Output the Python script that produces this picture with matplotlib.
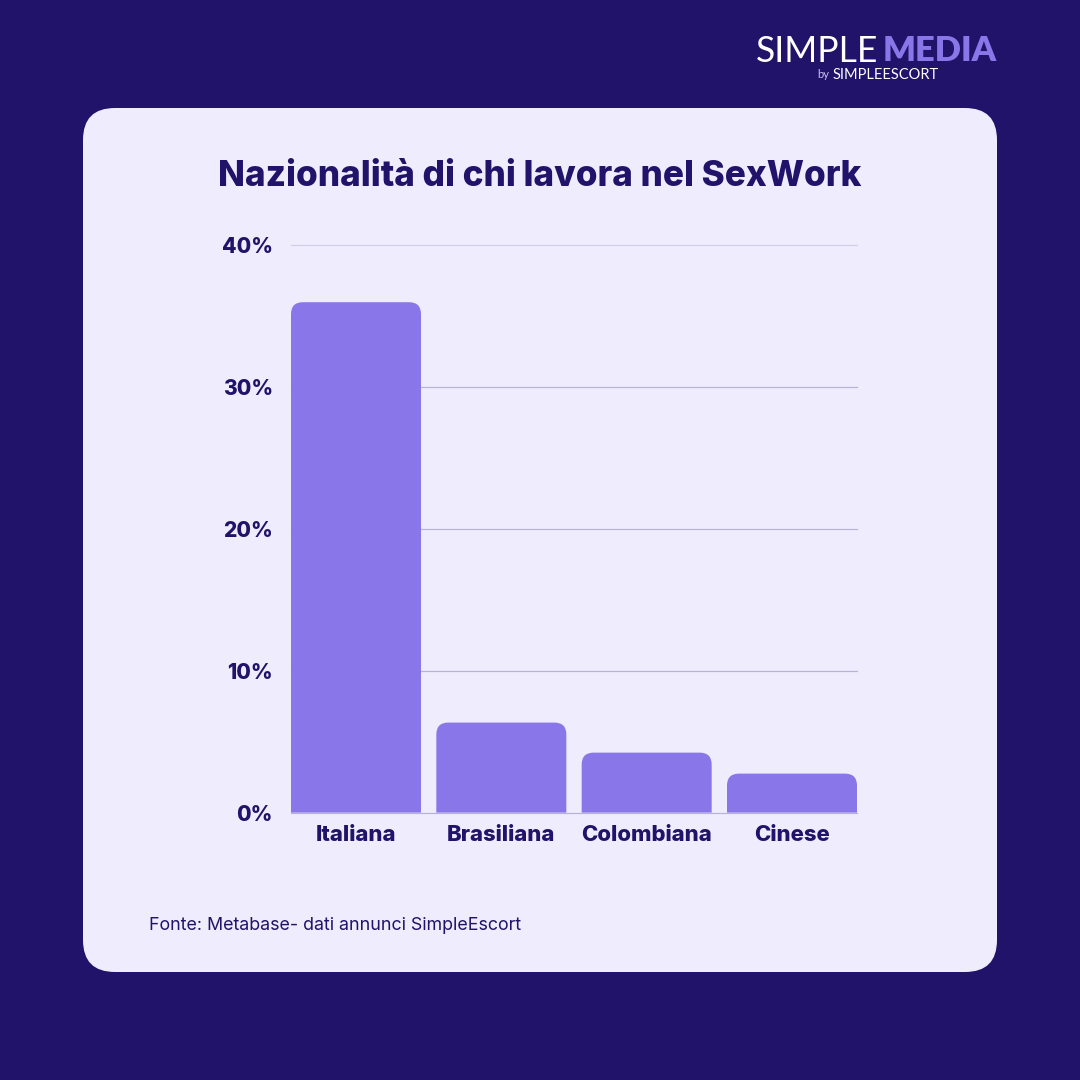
import numpy as np
import matplotlib
matplotlib.use("Agg")
import matplotlib.pyplot as plt
from matplotlib.patches import FancyBboxPatch, PathPatch
from matplotlib.path import Path

categories = ["Italiana", "Brasiliana", "Colombiana", "Cinese"]
values = [36.0, 6.35, 4.23, 2.75]
y_ticks = [0, 10, 20, 30, 40]
y_labels = ["0%", "10%", "20%", "30%", "40%"]

BG = "#211369"
CARD = "#EFECFE"
BAR = "#8976E8"
GRID = "#B9B3D3"
GRID_TOP = "#D3CEE8"

plt.rcParams["font.family"] = ["Inter", "DejaVu Sans"]

W = 1080
fig = plt.figure(figsize=(10.8, 10.8), dpi=100, facecolor=BG)


def axes_px(left, top, right, bottom):
    return fig.add_axes([left / W, 1 - bottom / W, (right - left) / W, (bottom - top) / W])


# background layer in pixels
bg = fig.add_axes([0, 0, 1, 1])
bg.set_xlim(0, W)
bg.set_ylim(W, 0)
bg.axis("off")
bg.add_patch(FancyBboxPatch((83, 108), 914, 864, boxstyle="round,pad=0,rounding_size=32",
                            fc=CARD, ec="none"))

bg.text(540, 176, "Nazionalità di chi lavora nel SexWork", ha="center", va="center",
        fontsize=25.3, fontweight="heavy", color=BG)
bg.text(149, 925, "Fonte: Metabase- dati annunci SimpleEscort", ha="left", va="center",
        fontsize=12.85, color=BG)

# logo
bg.text(878, 51, "SIMPLE", ha="right", va="center", fontsize=25.6, color="white", family="Lato")
bg.text(883, 51, "MEDIA", ha="left", va="center", fontsize=24.8, fontweight="heavy", color=BAR,
        family="Lato")
bg.text(817, 75, "by", ha="left", va="center", fontsize=8, color="#C9C1F5", family="Lato")
bg.text(833, 75, "SIMPLEESCORT", ha="left", va="center", fontsize=10.5, color="white", family="Lato")

# chart
ax = axes_px(291, 245.5, 857, 812.6)
ax.patch.set_alpha(0)
step_px = (857 - 291 - 130) / 3
bar_w = 130 / step_px
ax.set_xlim(-bar_w / 2, 3 + bar_w / 2)
ax.set_ylim(0, 40)
for s in ax.spines.values():
    s.set_visible(False)

for t in y_ticks:
    ax.axhline(t, color=GRID_TOP if t == 40 else GRID, lw=0.85, zorder=1, clip_on=False)


def rounded_top_bar(x, h, w, rx, ry):
    ry = min(ry, h)
    l, r = x - w / 2, x + w / 2
    verts = [(l, 0), (l, h - ry), (l, h), (l + rx, h), (r - rx, h), (r, h), (r, h - ry), (r, 0), (l, 0)]
    codes = [Path.MOVETO, Path.LINETO, Path.CURVE3, Path.CURVE3, Path.LINETO,
             Path.CURVE3, Path.CURVE3, Path.LINETO, Path.CLOSEPOLY]
    return PathPatch(Path(verts, codes), fc=BAR, ec="none", zorder=2)


# 12 px corner radius converted to data units
rx = 12 / step_px
ry = 12 * 40 / 567
for i, v in enumerate(values):
    ax.add_patch(rounded_top_bar(i, v, bar_w, rx, ry))

ax.set_xticks(range(len(categories)))
ax.set_xticklabels(categories, fontsize=15.9, fontweight="heavy", color=BG)
ax.set_yticks(y_ticks)
ax.set_yticklabels(y_labels, fontsize=15.2, fontweight="heavy", color=BG)
ax.tick_params(axis="both", length=0)
ax.tick_params(axis="x", pad=9)
ax.tick_params(axis="y", pad=13)

fig.savefig("out.png", dpi=100, facecolor=BG)
